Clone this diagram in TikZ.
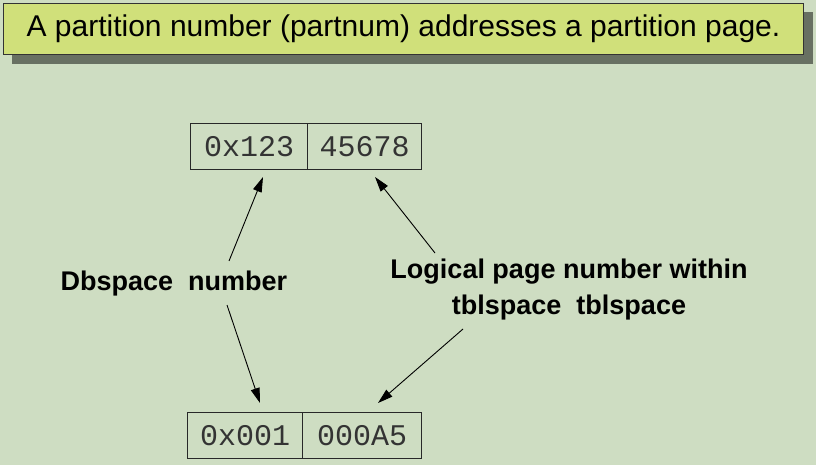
\documentclass[tikz,border=0pt]{standalone}
\usepackage{fontspec}
\setmainfont{Liberation Sans}
\newfontfamily\monof{Liberation Mono}
\usetikzlibrary{arrows.meta}
\definecolor{bgc}{RGB}{206,221,194}
\definecolor{titlefill}{RGB}{208,224,122}
\definecolor{shadowc}{RGB}{104,112,98}
\definecolor{boxline}{RGB}{40,40,40}
\tikzset{
  cell/.style={draw=boxline, line width=1.3pt, minimum height=46pt, inner sep=0pt,
    font=\monof\fontsize{30}{30}\selectfont, text=black!80},
  lbl/.style={font=\bfseries\fontsize{27}{36}\selectfont, align=center, inner sep=0pt},
  pointer/.style={draw=black, line width=0.9pt, -{Triangle[length=15pt,width=9pt]}}
}
\begin{document}
\begin{tikzpicture}[x=1pt,y=-1pt]
\useasboundingbox (0,0) rectangle (816,465);
\fill[bgc] (0,0) rectangle (816,465);
% title
\fill[shadowc] (12,12) rectangle (813,64);
\node[draw=black!80, line width=1pt, fill=titlefill, minimum width=800pt, minimum height=51pt,
  inner sep=0pt, anchor=north west, font=\fontsize{30}{30}\selectfont] (title) at (3,3)
  {A partition number (partnum) addresses a partition page.};
% top box
\node[cell, minimum width=117pt, anchor=north west] (t1) at (190,123) {0x123};
\node[cell, minimum width=114pt, anchor=north west] (t2) at (307,123) {45678};
% bottom box
\node[cell, minimum width=115pt, anchor=north west] (b1) at (187,412) {0x001};
\node[cell, minimum width=119pt, anchor=north west] (b2) at (302,412) {000A5};
% labels
\node[lbl] (dbs) at (174,284) {Dbspace\ \ number};
\node[lbl] (lpn) at (569,290) {Logical page number within\\tblspace\ \ tblspace};
% connector ends
\coordinate (a1s) at (229,261); \coordinate (a1e) at (263,177);
\coordinate (a2s) at (227,305); \coordinate (a2e) at (260,403);
\coordinate (a3s) at (435,253); \coordinate (a3e) at (375,177);
\coordinate (a4s) at (463,329); \coordinate (a4e) at (378,403);
\draw[pointer] (a1s) -- (a1e);
\draw[pointer] (a2s) -- (a2e);
\draw[pointer] (a3s) -- (a3e);
\draw[pointer] (a4s) -- (a4e);
\end{tikzpicture}
\end{document}
